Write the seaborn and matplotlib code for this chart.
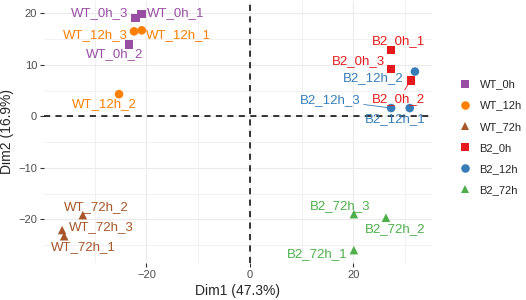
import pandas as pd
import matplotlib
matplotlib.use("Agg")
import matplotlib.pyplot as plt
import seaborn as sns

# PCA scores
samples = ["WT_0h_1", "WT_0h_2", "WT_0h_3",
           "WT_12h_1", "WT_12h_2", "WT_12h_3",
           "WT_72h_1", "WT_72h_2", "WT_72h_3",
           "B2_0h_1", "B2_0h_2", "B2_0h_3",
           "B2_12h_1", "B2_12h_2", "B2_12h_3",
           "B2_72h_1", "B2_72h_2", "B2_72h_3"]
groups = ["WT_0h"] * 3 + ["WT_12h"] * 3 + ["WT_72h"] * 3 + \
         ["B2_0h"] * 3 + ["B2_12h"] * 3 + ["B2_72h"] * 3
dim1 = [-20.9, -23.4, -22.1,
        -20.9, -25.3, -22.4,
        -35.9, -32.3, -36.3,
        27.3, 31.1, 27.3,
        30.9, 31.9, 27.3,
        20.1, 26.3, 20.1]
dim2 = [19.9, 14.0, 19.1,
        16.7, 4.3, 16.5,
        -23.3, -19.2, -22.1,
        12.9, 7.0, 9.2,
        1.6, 8.7, 1.6,
        -26.0, -19.7, -19.0]
group_order = ["WT_0h", "WT_12h", "WT_72h", "B2_0h", "B2_12h", "B2_72h"]
x_label = "Dim1 (47.3%)"
y_label = "Dim2 (16.9%)"

# styling
colors = ["#984EA3", "#FF7F00", "#A65628", "#E41A1C", "#377EB8", "#4DAF4A"]
markers = {"WT_0h": "s", "WT_12h": "o", "WT_72h": "^",
           "B2_0h": "s", "B2_12h": "o", "B2_72h": "^"}
# label offsets in pixels (dx, dy up), like ggrepel placed them
label_offsets = {
    "WT_0h_1": (34, 1), "WT_0h_2": (-14, -10), "WT_0h_3": (-36, 5),
    "WT_12h_1": (37, -5), "WT_12h_2": (-15, -10), "WT_12h_3": (-39, -4),
    "WT_72h_1": (19, -11), "WT_72h_2": (14, 8), "WT_72h_3": (39, 3),
    "B2_0h_1": (7, 9), "B2_0h_2": (-12, -19), "B2_0h_3": (-33, 8),
    "B2_12h_1": (-15, -11), "B2_12h_2": (-42, -7), "B2_12h_3": (-61, 8),
    "B2_72h_1": (-37, -4), "B2_72h_2": (9, -11), "B2_72h_3": (-14, 8),
}
with_segment = {"B2_0h_2", "B2_12h_3"}

df = pd.DataFrame({"sample": samples, "group": groups, "Dim1": dim1, "Dim2": dim2})
palette = dict(zip(group_order, colors))

sns.set_style("whitegrid")
plt.rcParams["font.family"] = ["Liberation Sans", "DejaVu Sans"]

fig = plt.figure(figsize=(5.26, 3.00), dpi=100)
ax = fig.add_axes([44 / 526, 37 / 300, 388 / 526, 262 / 300])

sns.scatterplot(data=df, x="Dim1", y="Dim2", hue="group", style="group",
                hue_order=group_order, style_order=group_order,
                palette=palette, markers=markers, s=38, linewidth=0,
                ax=ax, zorder=3)

ax.axhline(0, color="black", lw=1.1, ls=(0, (4, 3.5)), zorder=2)
ax.axvline(0, color="black", lw=1.1, ls=(0, (4, 3.5)), zorder=2)

for _, row in df.iterrows():
    dx, dy = label_offsets[row["sample"]]
    col = palette[row["group"]]
    arrow = None
    if row["sample"] in with_segment:
        arrow = dict(arrowstyle="-", color=col, lw=0.6, shrinkA=0, shrinkB=3)
    ax.annotate(row["sample"], (row["Dim1"], row["Dim2"]),
                xytext=(dx, dy), textcoords="offset pixels",
                ha="center", va="center", fontsize=9.5, color=col,
                arrowprops=arrow, zorder=4)

ax.set_xlim(-39.8, 35.2)
ax.set_ylim(-28.5, 22.4)
ax.set_xticks([-20, 0, 20])
ax.set_yticks([-20, -10, 0, 10, 20])
ax.set_xticks([-30, -10, 10, 30], minor=True)
ax.set_yticks([-25, -15, -5, 5, 15], minor=True)
ax.grid(which="major", color="#EBEBEB", lw=0.8)
ax.grid(which="minor", color="#EBEBEB", lw=0.5)
ax.set_facecolor("white")
for sp in ax.spines.values():
    sp.set_visible(False)
ax.tick_params(which="major", length=3, width=0.8, color="#333333",
               labelsize=8, labelcolor="#4D4D4D", pad=2, bottom=True, left=True)
ax.tick_params(which="minor", length=0)
ax.set_xlabel(x_label, fontsize=10, labelpad=3)
ax.set_ylabel(y_label, fontsize=10, labelpad=3)

leg = ax.legend(loc="center left", bbox_to_anchor=(1.045, 0.48), frameon=False,
                fontsize=8, handlelength=1.0, handletextpad=0.8,
                labelspacing=1.0, markerscale=1.0, title=None)

fig.savefig("out.png", dpi=100)
